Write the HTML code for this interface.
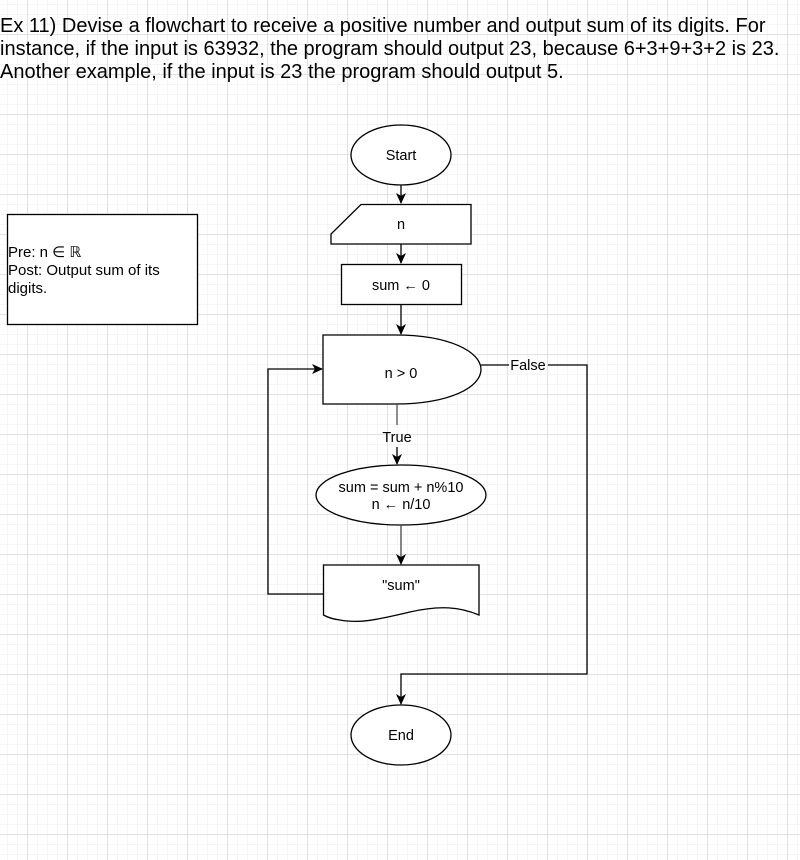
<!DOCTYPE html>
<html><head><meta charset="utf-8"><style>
html,body{margin:0;padding:0;background:#fff;}
svg{display:block;}
text{font-family:"Liberation Sans",Arial,sans-serif;fill:#000;}
</style></head><body>
<svg width="800" height="860" viewBox="0 0 800 860" xmlns="http://www.w3.org/2000/svg">
<defs>
<pattern id="minor" x="7" y="4" width="10" height="10" patternUnits="userSpaceOnUse">
<path d="M0 0.5H10M0.5 0V10" stroke="#f5f5f5" stroke-width="1" fill="none"/>
</pattern>
<pattern id="major" x="27" y="34" width="40" height="40" patternUnits="userSpaceOnUse">
<path d="M0 0.5H40M0.5 0V40" stroke="#e2e2e2" stroke-width="1" fill="none"/>
</pattern>
<marker id="ar" markerWidth="12" markerHeight="12" refX="10" refY="6" orient="auto" markerUnits="userSpaceOnUse">
<path d="M0,1 L11,6 L0,11 L3,6 Z" fill="#000"/>
</marker>
</defs>
<rect width="800" height="860" fill="url(#minor)"/>
<rect width="800" height="860" fill="url(#major)"/>

<g font-size="20">
<text x="0" y="32">Ex 11) Devise a flowchart to receive a positive number and output sum of its digits. For</text>
<text x="0" y="55">instance, if the input is 63932, the program should output 23, because 6+3+9+3+2 is 23.</text>
<text x="0" y="78">Another example, if the input is 23 the program should output 5.</text>
</g>

<g stroke="#000" stroke-width="1.3" fill="#fff">
<rect x="7.5" y="214.5" width="190" height="110"/>
<ellipse cx="401" cy="155" rx="50" ry="30"/>
<path d="M361,204.5 H471 V244 H331 V234 Z"/>
<rect x="341.5" y="264.5" width="120" height="40"/>
<path d="M323,335 H395 C450,335 481,352 481,369.5 C481,387 450,404 395,404 H323 Z"/>
<ellipse cx="401" cy="495" rx="85" ry="30"/>
<path d="M323.5,565 H479 V615 C460,607 440,605 410,612 C380,619 360,624 340,620 C332,619 327,617 323.5,615 Z"/>
<ellipse cx="401" cy="735" rx="50" ry="30"/>
</g>

<g stroke="#000" stroke-width="1.3" fill="none">
<line x1="401" y1="185" x2="401" y2="203" marker-end="url(#ar)"/>
<line x1="401" y1="244" x2="401" y2="263" marker-end="url(#ar)"/>
<line x1="401" y1="304" x2="401" y2="334" marker-end="url(#ar)"/>
<line x1="397" y1="404" x2="397" y2="425" stroke="#555"/>
<line x1="397" y1="447" x2="397" y2="464" marker-end="url(#ar)"/>
<line x1="401" y1="525" x2="401" y2="564" stroke="#444" marker-end="url(#ar)"/>
<polyline points="323,594 268,594 268,369 322,369" marker-end="url(#ar)"/>
<polyline points="481,365 509,365"/>
<polyline points="548,365 587,365 587,674 401,674 401,704" marker-end="url(#ar)"/>
</g>

<g font-size="14.5" text-anchor="middle">
<text x="401" y="160">Start</text>
<text x="401" y="229">n</text>
<text x="401" y="290">sum ← 0</text>
<text x="401" y="378">n &gt; 0</text>
<text x="397" y="442">True</text>
<text x="528" y="370">False</text>
<text x="401" y="492">sum = sum + n%10</text>
<text x="401" y="509">n ← n/10</text>
<text x="401" y="590">"sum"</text>
<text x="401" y="740">End</text>
</g>
<g font-size="15">
<text x="8" y="257">Pre: n ∈ ℝ</text>
<text x="8" y="275">Post: Output sum of its</text>
<text x="8" y="293">digits.</text>
</g>
</svg>
</body></html>
